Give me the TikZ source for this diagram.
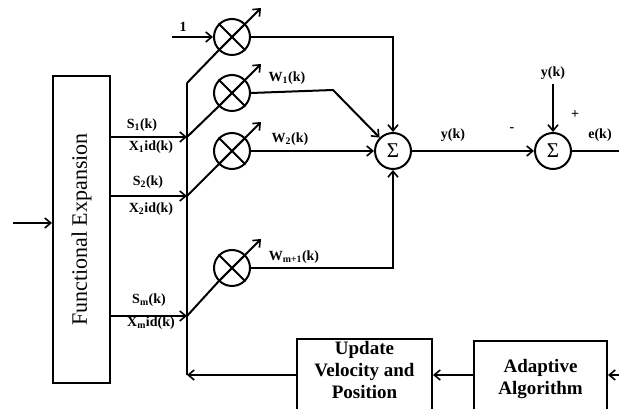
\documentclass[tikz,border=0pt]{standalone}
\usepackage{fontspec}
\setmainfont{Liberation Serif}
\usetikzlibrary{arrows.meta,positioning,calc}

\begin{document}
\begin{tikzpicture}[
  x=1pt, y=1pt,
  line width=2pt,
  box/.style={
    draw,
    line width=2pt,
    align=center,
    inner sep=2pt,
    font=\bfseries\fontsize{19}{22}\selectfont
  },
  mult/.style={circle, draw, line width=2pt, minimum size=36pt, inner sep=0pt},
  sum/.style={mult, font=\fontsize{21}{21}\selectfont},
  lbl/.style={font=\bfseries\fontsize{14}{14}\selectfont, inner sep=1pt},
  arrow/.style={-{Straight Barb[length=6pt, width=10pt, line width=1.6pt]}, line width=2pt}
]
\useasboundingbox (0,0) rectangle (619,409);
\clip (0,0) rectangle (619,409);

% functional expansion block
\node[draw, line width=2pt, minimum width=57pt, minimum height=307pt] (fe) at (81.5,179.5) {};
\node[rotate=90, font=\fontsize{22}{22}\selectfont] (fetext) at (fe.center) {Functional Expansion};
\coordinate (xin) at (13,186);
\draw[arrow] (xin) -- (xin -| fe.west);

% bus
\coordinate (btop) at (187,326);
\coordinate (bbot) at (187,34);
\coordinate (b1) at (187,272);
\coordinate (b2) at (187,213);
\coordinate (b3) at (187,93);
\draw (btop) -- (bbot);
\draw[arrow] (b1 -| fe.east) -- (b1);
\draw[arrow] (b2 -| fe.east) -- (b2);
\draw[arrow] (b3 -| fe.east) -- (b3);

\node[lbl] (s1lbl) at (142,284) {S\textsubscript{1}(k)};
\node[lbl] (x1lbl) at (151,262) {X\textsubscript{1}id(k)};
\node[lbl] (s2lbl) at (148,227) {S\textsubscript{2}(k)};
\node[lbl] (x2lbl) at (151,200) {X\textsubscript{2}id(k)};
\node[lbl] (smlbl) at (149,109) {S\textsubscript{m}(k)};
\node[lbl] (xmlbl) at (151,86) {X\textsubscript{m}id(k)};

% multipliers
\node[mult] (m0) at (232,372) {};
\node[mult] (m1) at (232,316) {};
\node[mult] (m2) at (232,258) {};
\node[mult] (m3) at (232,141) {};
\foreach \m in {m0,m1,m2,m3} {
  \draw (\m.45) -- (\m.225) (\m.135) -- (\m.315);
  \draw[arrow] (\m.225) -- ($(\m.center)+(29pt,29pt)$);
}
\draw (btop) -- (m0.225);
\draw (b1) -- (m1.225);
\draw (b2) -- (m2.225);
\draw (b3) -- (m3.225);

\coordinate (one) at (172,372);
\draw[arrow] (one) -- (m0.west);
\node[lbl] (onelbl) at (183,382) {1};

% summation
\node[sum] (sum1) at (393,258) {Σ};
\node[sum] (sum2) at (553,258) {Σ};
\coordinate (c1) at (333,319);
\draw[arrow] (m0.east) -| (sum1.north);
\draw[arrow] (m1.east) -- (c1) -- (sum1.north west);
\draw[arrow] (m2.east) -- (sum1.west);
\draw[arrow] (m3.east) -| (sum1.south);
\draw[arrow] (sum1) -- (sum2);

\node[lbl] (w1lbl) at (287,331) {W\textsubscript{1}(k)};
\node[lbl] (w2lbl) at (290,270) {W\textsubscript{2}(k)};
\node[lbl] (wmlbl) at (294,152) {W\textsubscript{m+1}(k)};

\node[lbl] (ylbl) at (453,274) {y(k)};
\node[lbl] (minus) at (512,279) {-};
\node[lbl] (plus) at (575,294) {+};
\node[lbl] (elbl) at (600,274) {e(k)};

\node[lbl, inner sep=4pt] (ydk) at (553,336) {y(k)};
\draw[arrow] (ydk) -- (sum2);
\coordinate (eout) at (619,258);
\draw (sum2) -- (eout);

% update loop
\node[box, minimum width=135pt, minimum height=76pt] (upd) at (364.5,30) {Update\\Velocity and\\Position\\[-3pt]};
\node[box, minimum width=133pt, minimum height=76pt, right=40pt of upd] (alg) {Adaptive\\Algorithm};
\coordinate (ain) at (619,34);
\draw[arrow] (ain) -- (ain -| alg.east);
\draw[arrow] (alg.west |- ain) -- (upd.east |- ain);
\draw[arrow] (upd.west |- bbot) -- (bbot);

\end{tikzpicture}
\end{document}
